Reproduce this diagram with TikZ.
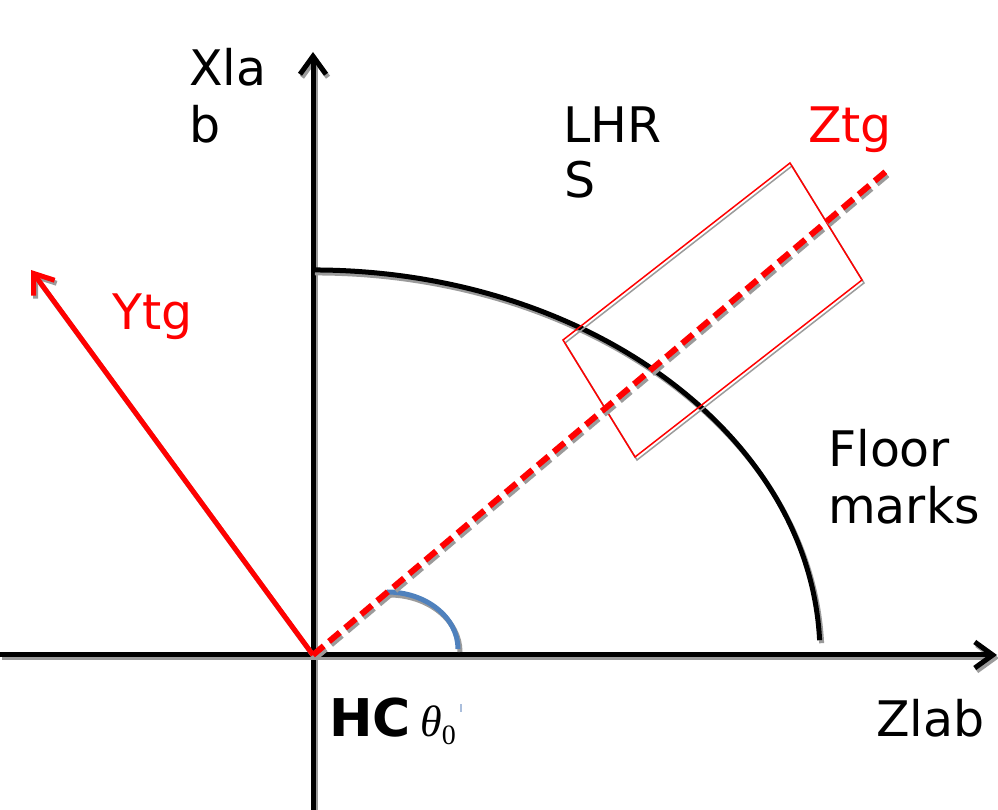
\documentclass[tikz,border=0pt]{standalone}
\usepackage{fontspec}
\setmainfont{DejaVu Sans}
\newfontfamily\thetafont{Liberation Serif}
\usetikzlibrary{arrows.meta}
\definecolor{shgray}{RGB}{155,155,155}
\definecolor{arcblue}{RGB}{79,129,189}
\definecolor{tickblue}{RGB}{170,190,220}
\newcommand\shdraw[2]{%
  \begin{scope}[transform canvas={shift={(2pt,-3pt)}}]
    \draw[#1, draw=shgray] #2;
  \end{scope}
  \draw[#1] #2;}
\begin{document}
\begin{tikzpicture}[x=1pt,y=1pt,
  axisline/.style={line width=5pt, draw=black},
  lbl/.style={anchor=base west, inner sep=0pt, font=\fontsize{49}{58}\selectfont},
  tipv/.style={-{Straight Barb[length=18pt,width=26pt]}}
]
\useasboundingbox (0,0) rectangle (998,810);
\coordinate (O) at (313,155);
\coordinate (vbot) at (313,0);
\coordinate (vtop) at (313,758);
\coordinate (hleft) at (0,155);
\coordinate (hright) at (997,155);
\coordinate (ytip) at (31,540);
\coordinate (zend) at (890,642);
\coordinate (r1) at (563,470);
\coordinate (r2) at (790,647);
\coordinate (r3) at (862,530);
\coordinate (r4) at (635,353);
\coordinate (arcstart) at (819.6,169.8);
\coordinate (bluestart) at (458,161);

% axes
\shdraw{axisline, tipv}{(vbot) -- (vtop)}
\shdraw{axisline, tipv}{(hleft) -- (hright)}

% floor marks arc
\shdraw{black, line width=5pt}{(arcstart) arc[start angle=2.2, end angle=90, x radius=507, y radius=385]}

% angle arc
\shdraw{arcblue, line width=5pt}{(bluestart) arc[start angle=0, end angle=90, x radius=71, y radius=57]}

% target box
\shdraw{red, line width=1.5pt}{(r1) -- (r2) -- (r3) -- (r4) -- cycle}

% Ytg arrow
\shdraw{red, line width=5pt, tipv}{(O) -- (ytip)}

% Ztg dashed
\shdraw{red, line width=6pt, dash pattern=on 14pt off 7pt}{(O) -- (zend)}

% small tick
\coordinate (tk1) at (461,98);
\coordinate (tk2) at (461,106);
\draw[tickblue, line width=1.2pt] (tk1) -- (tk2);

% labels
\node[lbl] (xla1) at (189,724) {Xla};
\node[lbl] (xla2) at (189,667) {b};
\node[lbl] (lhr1) at (563,667) {LHR};
\node[lbl] (lhr2) at (564,612) {S};
\node[lbl, text=red] (ztg) at (808,667) {Ztg};
\node[lbl, text=red] (ytg) at (112,480) {Ytg};
\node[lbl] (fl1) at (828,343) {Floor};
\node[lbl] (fl2) at (828,286) {marks};
\node[lbl] (zlab) at (876,73) {Zlab};
\node[lbl, font=\fontsize{52}{60}\selectfont\bfseries] (hc) at (329,73) {HC};
\node[anchor=base west, inner sep=0pt, font=\fontsize{44}{50}\selectfont\thetafont] (th) at (420,73) {\textit{θ}\raisebox{-8pt}{\fontsize{28}{30}\selectfont 0}};
\end{tikzpicture}
\end{document}
